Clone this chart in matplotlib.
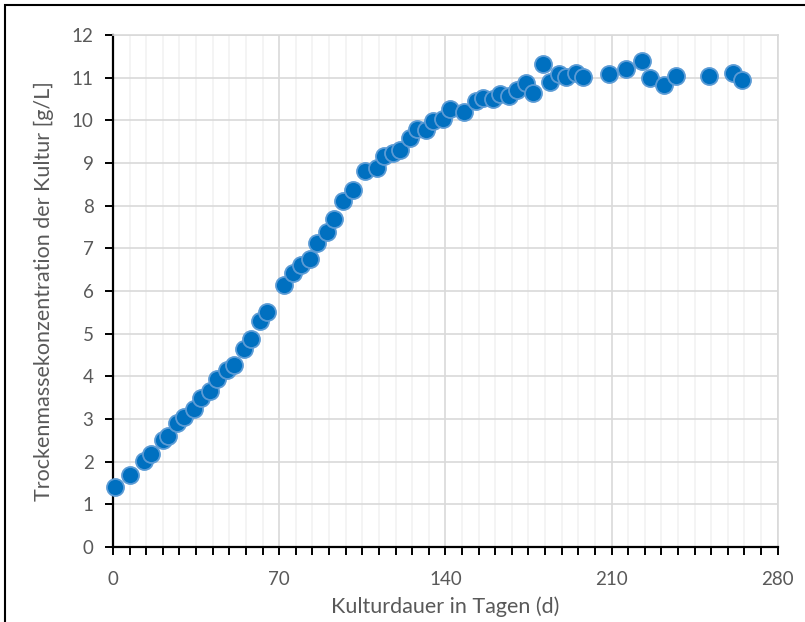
import numpy as np
import matplotlib.pyplot as plt
from matplotlib.ticker import MultipleLocator
from matplotlib.patches import Rectangle

# Kulturdauer (Tage) und Trockenmassekonzentration (g/L)
tage = [1, 7, 13, 16, 21, 23, 27, 30, 34, 37, 41, 44, 48, 51, 55, 58, 62, 65,
        72, 76, 79, 83, 86, 90, 93, 97, 101, 106, 111, 114, 118, 121, 125, 128,
        132, 135, 139, 142, 148, 153, 156, 160, 163, 167, 170, 174, 177, 181,
        184, 188, 191, 195, 198, 209, 216, 223, 226, 232, 237, 251, 261, 265]
konz = [1.40, 1.69, 2.02, 2.17, 2.51, 2.61, 2.90, 3.05, 3.23, 3.50, 3.66, 3.94,
        4.15, 4.27, 4.64, 4.87, 5.30, 5.51, 6.14, 6.43, 6.60, 6.75, 7.12, 7.38,
        7.69, 8.12, 8.36, 8.82, 8.89, 9.16, 9.23, 9.30, 9.58, 9.80, 9.77, 9.98,
        10.03, 10.26, 10.19, 10.45, 10.52, 10.49, 10.62, 10.56, 10.71, 10.88,
        10.63, 11.32, 10.90, 11.08, 11.02, 11.10, 11.01, 11.08, 11.20, 11.39,
        11.00, 10.83, 11.05, 11.05, 11.12, 10.94]

plt.rcParams['font.family'] = ['Lato', 'DejaVu Sans']
grau = '#595959'

fig = plt.figure(figsize=(8.05, 6.22), dpi=100)
ax = fig.add_axes([0.1404, 0.1206, 0.8257, 0.8231])

#Rahmen um die Grafik
fig.patches.append(Rectangle((5 / 805, -0.1), 1.2, 1 - 5 / 622 + 0.1,
                             transform=fig.transFigure, fill=False,
                             edgecolor='black', linewidth=1.5))

ax.scatter(tage, konz, s=150, color='#0070C0', edgecolor='#5B9BD5',
           linewidth=1.3, zorder=3, clip_on=False)

ax.set_xlim(0, 280)
ax.set_ylim(0, 12)
ax.xaxis.set_major_locator(MultipleLocator(70))
ax.xaxis.set_minor_locator(MultipleLocator(7))
ax.yaxis.set_major_locator(MultipleLocator(1))

ax.grid(which='major', color='#D9D9D9', linewidth=1.2, zorder=0)
ax.grid(which='minor', axis='x', color='#F2F2F2', linewidth=1.2, zorder=0)
ax.set_axisbelow(True)

for s in ['left', 'bottom']:
    ax.spines[s].set_color('black')
    ax.spines[s].set_linewidth(1.6)
for s in ['top', 'right']:
    ax.spines[s].set_color('#D9D9D9')
    ax.spines[s].set_linewidth(1.2)

ax.tick_params(which='both', direction='out', length=6, width=1.4,
               color='black', labelcolor=grau, labelsize=13.5)
ax.tick_params(axis='x', which='both', pad=11)
ax.tick_params(axis='y', pad=8)

ax.set_xlabel('Kulturdauer in Tagen (d)', fontsize=15.5, color=grau, labelpad=6)
ax.set_ylabel('Trockenmassekonzentration der Kultur [g/L]', fontsize=15.5,
              color=grau, labelpad=13)

plt.savefig('out.png', dpi=100)
